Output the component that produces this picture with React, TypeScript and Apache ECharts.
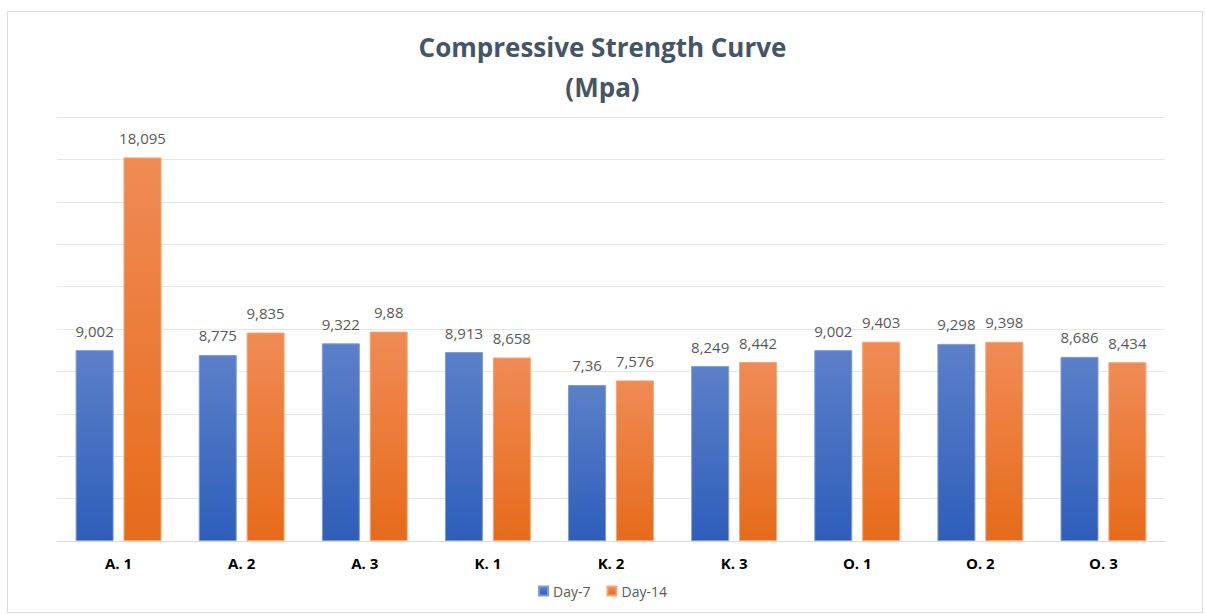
import React, { useEffect, useRef } from "react";
import * as echarts from "echarts";

const categories = ["A. 1", "A. 2", "A. 3", "K. 1", "K. 2", "K. 3", "O. 1", "O. 2", "O. 3"];
const day7 = [9.002, 8.775, 9.322, 8.913, 7.36, 8.249, 9.002, 9.298, 8.686];
const day14 = [18.095, 9.835, 9.88, 8.658, 7.576, 8.442, 9.403, 9.398, 8.434];
const seriesNames = ["Day-7", "Day-14"];

const FONT = "'Open Sans', 'Noto Sans', sans-serif";

const fmt = (v: number) => String(v).replace(".", ",");

export default function App() {
  const ref = useRef<HTMLDivElement>(null);
  useEffect(() => {
    document.body.style.margin = "0";
    const chart = echarts.init(ref.current!, null, { renderer: "svg" });
    const grad = (top: string, bottom: string) =>
      new echarts.graphic.LinearGradient(0, 0, 0, 1, [
        { offset: 0, color: top },
        { offset: 1, color: bottom },
      ]);
    const labelCfg = {
      show: true,
      position: "top",
      distance: 12,
      formatter: (p: any) => fmt(p.value),
      fontFamily: FONT,
      fontSize: 15,
      color: "#595959",
    };
    chart.setOption({
      animation: false,
      backgroundColor: "#ffffff",
      title: {
        text: "Compressive Strength Curve\n(Mpa)",
        left: "center",
        top: 22,
        textStyle: {
          fontFamily: FONT,
          fontWeight: "bold",
          fontSize: 26,
          lineHeight: 40,
          color: "#44546a",
        },
      },
      graphic: [
        {
          type: "rect",
          shape: { x: 7.5, y: 11.5, width: 1195, height: 601 },
          style: { fill: "none", stroke: "#d9d9d9", lineWidth: 1 },
          silent: true,
        },
      ],
      legend: {
        data: seriesNames,
        bottom: 11,
        left: "center",
        itemWidth: 9,
        itemHeight: 9,
        itemGap: 16,
        icon: "rect",
        textStyle: { fontFamily: FONT, fontSize: 14, color: "#595959" },
      },
      grid: { left: 57, right: 40, top: 117, bottom: 73, containLabel: false },
      xAxis: {
        type: "category",
        data: categories,
        axisLine: { show: true, lineStyle: { color: "#d9d9d9" } },
        axisTick: { show: false },
        axisLabel: {
          fontFamily: FONT,
          fontWeight: "bold",
          fontSize: 15,
          color: "#000000",
          margin: 14,
        },
      },
      yAxis: {
        type: "value",
        min: 0,
        max: 20,
        interval: 2,
        axisLabel: { show: false },
        axisLine: { show: false },
        axisTick: { show: false },
        splitLine: { lineStyle: { color: "#e3e6ea" } },
      },
      series: [
        {
          name: seriesNames[0],
          type: "bar",
          data: day7,
          barWidth: 38,
          barGap: "26%",
          itemStyle: {
            color: grad("#5b80c9", "#2e5eba"),
            borderColor: "#7f9bd6",
            borderWidth: 1,
          },
          label: labelCfg,
        },
        {
          name: seriesNames[1],
          type: "bar",
          data: day14,
          barWidth: 38,
          itemStyle: {
            color: grad("#f08b55", "#e66b1a"),
            borderColor: "#f4a678",
            borderWidth: 1,
          },
          label: labelCfg,
        },
      ],
      color: ["#4472c4", "#ed7d31"],
    });
    return () => chart.dispose();
  }, []);
  return <div ref={ref} style={{ width: 1205, height: 614 }} />;
}
